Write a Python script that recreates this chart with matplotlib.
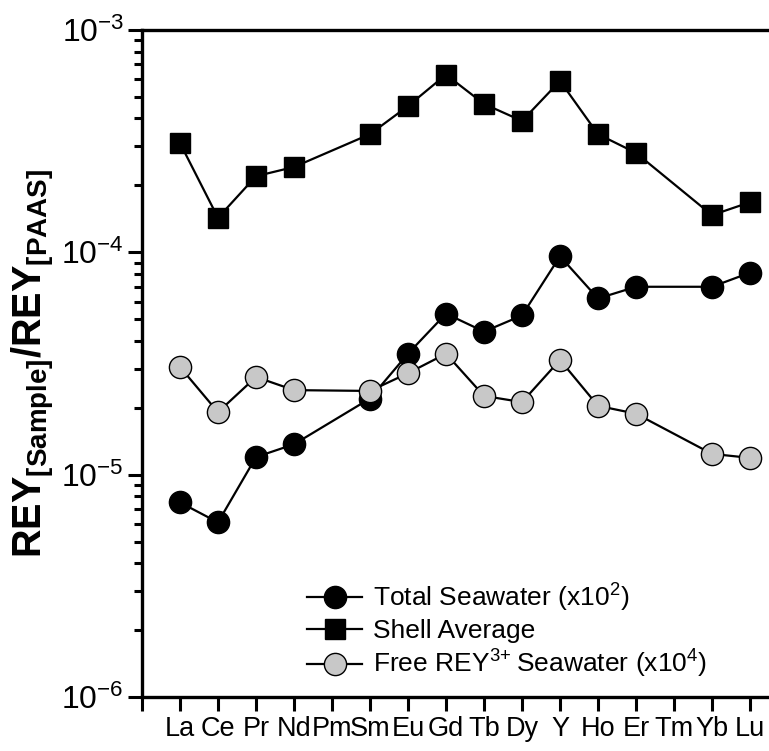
import numpy as np
import matplotlib
matplotlib.use("Agg")
import matplotlib.pyplot as plt
from matplotlib.ticker import LogLocator, NullFormatter, FixedLocator

plt.rcParams['font.family'] = ['Liberation Sans', 'DejaVu Sans']
plt.rcParams['mathtext.fontset'] = 'custom'
plt.rcParams['mathtext.rm'] = 'Liberation Sans'
plt.rcParams['mathtext.bf'] = 'Liberation Sans:bold'
plt.rcParams['mathtext.default'] = 'regular'

elements = ['La', 'Ce', 'Pr', 'Nd', 'Pm', 'Sm', 'Eu', 'Gd', 'Tb', 'Dy', 'Y', 'Ho', 'Er', 'Tm', 'Yb', 'Lu']
# None = no data (Pm, Tm)
total_seawater = [7.5e-6, 6.1e-6, 1.2e-5, 1.37e-5, None, 2.2e-5, 3.5e-5, 5.3e-5, 4.4e-5, 5.2e-5,
                  9.6e-5, 6.2e-5, 7.0e-5, None, 7.0e-5, 8.1e-5]
shell_average = [3.1e-4, 1.43e-4, 2.2e-4, 2.42e-4, None, 3.4e-4, 4.55e-4, 6.3e-4, 4.65e-4, 3.9e-4,
                 5.9e-4, 3.4e-4, 2.8e-4, None, 1.47e-4, 1.68e-4]
free_rey = [3.05e-5, 1.91e-5, 2.75e-5, 2.4e-5, None, 2.38e-5, 2.86e-5, 3.5e-5, 2.26e-5, 2.12e-5,
            3.28e-5, 2.04e-5, 1.88e-5, None, 1.24e-5, 1.19e-5]


def clean(vals):
    x = [i + 1 for i, v in enumerate(vals) if v is not None]
    y = [v for v in vals if v is not None]
    return x, y


fig = plt.figure(figsize=(7.69, 7.51), dpi=100)
ax = fig.add_axes([142 / 769, 1 - 697 / 751, 1 - 142 / 769, (697 - 30) / 751])

x, y = clean(total_seawater)
ax.plot(x, y, '-o', color='black', mfc='black', mec='black', ms=16, lw=1.6,
        label='Total Seawater (x10$^{2}$)', zorder=3)
x, y = clean(shell_average)
ax.plot(x, y, '-s', color='black', mfc='black', mec='black', ms=15, lw=1.6,
        label='Shell Average', zorder=3)
x, y = clean(free_rey)
ax.plot(x, y, '-o', color='black', mfc='#c8c8c8', mec='black', mew=1.0, ms=16, lw=1.6,
        label='Free REY$^{3\\!+\\!\\!}$ Seawater (x10$^{4}$)', zorder=4)

ax.set_yscale('log')
ax.set_ylim(1e-6, 1e-3)
ax.set_xlim(0, (769 - 142) / 38.0)

ax.xaxis.set_major_locator(FixedLocator(range(0, 17)))
ax.set_xticklabels([''] + elements, fontsize=19.5)
ax.yaxis.set_minor_locator(LogLocator(base=10, subs=np.arange(2, 10), numticks=10))
ax.yaxis.set_minor_formatter(NullFormatter())
ax.set_yticks([1e-6, 1e-5, 1e-4, 1e-3])
ax.set_yticklabels(['10$^{-6}$', '10$^{-5}$', '10$^{-4}$', '10$^{-3}$'], fontsize=23)

ax.tick_params(axis='both', which='major', direction='out', length=10, width=2.2, pad=3)
ax.tick_params(axis='y', which='minor', direction='out', length=6, width=2.2)
ax.tick_params(axis='x', which='major', length=10, pad=4)

for side in ['left', 'top', 'bottom']:
    ax.spines[side].set_linewidth(2.4)
ax.spines['right'].set_visible(False)

ax.set_ylabel('REY$_{[Sample]}$/REY$_{[PAAS]}$', fontsize=28.5, fontweight='bold', labelpad=3)

ax.legend(loc='lower left', bbox_to_anchor=(0.263, 0.025), frameon=False, fontsize=19,
          handlelength=2.1, handletextpad=0.4, labelspacing=0.2, borderaxespad=0.0,
          borderpad=0.0)

fig.savefig('out.png', dpi=100)
